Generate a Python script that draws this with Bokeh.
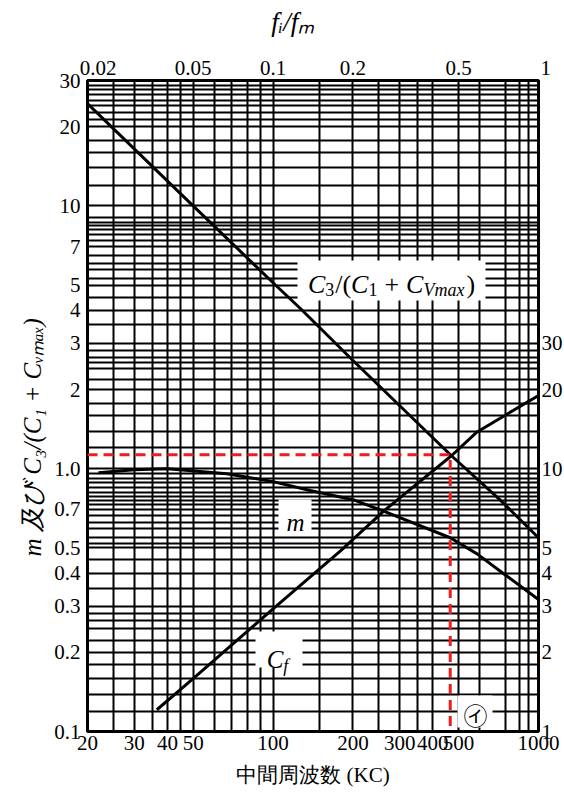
import math
from bokeh.plotting import figure
from bokeh.models import Range1d, LogScale, LogAxis, FixedTicker, Label, BoxAnnotation, Grid
from bokeh.embed import file_html
from bokeh.resources import INLINE

# ---------------- data ----------------
freq_ticks = [20, 30, 40, 50, 100, 200, 300, 400, 500, 1000]
freq_labels = ["20", "30", "40", "50", "100", "200", "300", "400", "500", "1000"]
ratio_ticks = [0.02, 0.05, 0.1, 0.2, 0.5, 1]
ratio_labels = ["\u20030.02", "0.05", "0.1", "0.2", "0.5", "\u2002\u20091"]
left_ticks = [0.1, 0.2, 0.3, 0.4, 0.5, 0.7, 1.0, 2, 3, 4, 5, 7, 10, 20, 30]
left_labels = ["0.1", "0.2", "0.3", "0.4", "0.5", "0.7", "1.0", "2", "3", "4", "5", "7", "10", "20", "30"]
right_ticks = [1, 2, 3, 4, 5, 10, 20, 30]
right_labels = ["1", "2", "3", "4", "5", "10", "20", "30"]

# graph-paper rulings
grid_freq = [25, 30, 35, 40, 45, 50, 60, 70, 80, 90, 100, 150, 200, 250, 300,
             350, 400, 500, 600, 750, 850, 920]
grid_val = [28.7, 27.7, 26.5, 25.2, 24.1, 22.6, 21.4, 20, 17.8, 16, 14, 12, 10,
            9.06, 8.67, 8.42, 8.13, 7.78, 7.39, 7, 6.48, 6.05, 5.71, 5.28, 5, 4.5,
            4.0, 3.54, 3.0, 2.82, 2.66, 2.54, 2.40, 2.18, 2.0, 1.77, 1.59, 1.38, 1.20,
            1.0, 0.957, 0.915, 0.883, 0.85, 0.814, 0.784, 0.757, 0.731, 0.70, 0.664,
            0.626, 0.59, 0.549, 0.518, 0.5, 0.45, 0.40, 0.35, 0.30, 0.282, 0.264,
            0.246, 0.222, 0.20, 0.18, 0.159, 0.138, 0.119]

# curves
c3_freq = [20, 50, 100, 127, 200, 470, 720, 1000]
c3_val = [24.5, 10, 5.1, 4.06, 2.58, 1.12, 0.757, 0.546]
m_freq = [22, 30, 40, 67, 100, 138, 200, 261, 465, 587, 750, 1000]
m_val = [0.965, 0.99, 1.0, 0.957, 0.893, 0.826, 0.762, 0.69, 0.546, 0.474, 0.394, 0.318]
cf_freq = [36.5, 50, 100, 180, 261, 470, 587, 720, 1000]
cf_val = [1.21, 1.59, 2.93, 4.88, 6.9, 11.2, 13.8, 15.6, 19.0]

marker_freq = 465
marker_val = 1.13

x_title = "中間周波数 (KC)"
top_title = "fᵢ/fₘ"
y_title = "m 及び C₃/(C₁ + Cᵥₘₐₓ)"

# ---------------- layout ----------------
W, H = 564, 793
FL, FT, FW, FH = 87, 80, 451, 651   # frame in canvas pixels
X0, X1 = freq_ticks[0], freq_ticks[-1]
Y0, Y1 = left_ticks[0], left_ticks[-1]


def px2x(px):
    return X0 * 10 ** ((px - FL) / FW * math.log10(X1 / X0))


def px2y(py):
    return Y0 * 10 ** ((FT + FH - py) / FH * math.log10(Y1 / Y0))


p = figure(x_axis_type="log", y_axis_type="log",
           x_range=Range1d(X0, X1), y_range=Range1d(Y0, Y1),
           frame_width=FW, frame_height=FH,
           min_border_left=FL, min_border_top=FT,
           min_border_right=W - FL - FW, min_border_bottom=H - FT - FH,
           output_backend="svg", toolbar_location=None)
p.extra_x_ranges = {"ratio": Range1d(ratio_ticks[0], ratio_ticks[-1])}
p.extra_x_scales = {"ratio": LogScale()}
p.extra_y_ranges = {"cf": Range1d(right_ticks[0], right_ticks[0] * Y1 / Y0)}
p.extra_y_scales = {"cf": LogScale()}

p.grid.visible = False
p.outline_line_color = "black"
p.outline_line_width = 3
p.background_fill_color = "white"
p.border_fill_color = "white"

FONT = "Liberation Serif"


def style_axis(ax, standoff):
    ax.axis_line_color = None
    ax.major_tick_line_color = None
    ax.minor_tick_line_color = None
    ax.major_tick_out = 0
    ax.major_tick_in = 0
    ax.minor_tick_out = 0
    ax.minor_tick_in = 0
    ax.major_label_text_font = FONT
    ax.major_label_text_font_size = "21px"
    ax.major_label_text_color = "black"
    ax.major_label_standoff = standoff
    ax.axis_label_text_color = "black"
    ax.axis_label_text_font = FONT


xa = p.xaxis[0]
xa.ticker = FixedTicker(ticks=freq_ticks, minor_ticks=[])
xa.major_label_overrides = dict(zip(freq_ticks, freq_labels))
style_axis(xa, 4)
xa.axis_label = x_title
xa.axis_label_text_font_size = "21px"
xa.axis_label_text_font_style = "normal"
xa.axis_label_standoff = 10

ya = p.yaxis[0]
ya.ticker = FixedTicker(ticks=left_ticks, minor_ticks=[])
ya.major_label_overrides = dict(zip(left_ticks, left_labels))
style_axis(ya, 7)
ya.axis_label = y_title + "\u3000\u3000\u2002"
ya.axis_label_text_font_size = "25px"
ya.axis_label_text_font_style = "italic"
ya.axis_label_standoff = 5

top = LogAxis(x_range_name="ratio", ticker=FixedTicker(ticks=ratio_ticks, minor_ticks=[]))
top.major_label_overrides = dict(zip(ratio_ticks, ratio_labels))
style_axis(top, 1)
top.axis_label = top_title + "\u3000\u2002"
top.axis_label_text_font_size = "27px"
top.axis_label_text_font_style = "italic"
top.axis_label_standoff = 16
p.add_layout(top, "above")

right = LogAxis(y_range_name="cf", ticker=FixedTicker(ticks=right_ticks, minor_ticks=[]))
right.major_label_overrides = dict(zip(right_ticks, right_labels))
style_axis(right, 3)
p.add_layout(right, "right")

# rulings
p.add_layout(Grid(dimension=0, ticker=FixedTicker(ticks=grid_freq, minor_ticks=[]),
                  grid_line_color="black", grid_line_width=2))
p.add_layout(Grid(dimension=1, ticker=FixedTicker(ticks=grid_val, minor_ticks=[]),
                  grid_line_color="black", grid_line_width=2))

# curves
p.line(c3_freq, c3_val, line_color="black", line_width=3, line_join="round")
p.line(m_freq, m_val, line_color="black", line_width=3, line_join="round")
p.line(cf_freq, cf_val, line_color="black", line_width=3, line_join="round", y_range_name="cf")

# red dashed guide
p.line([X0, marker_freq, marker_freq], [marker_val, marker_val, Y0],
       line_color="#ee1c1c", line_width=3, line_dash="10 6")


# white label boxes
def white_box(x0, x1, y0, y1):
    p.add_layout(BoxAnnotation(left=px2x(x0), right=px2x(x1), top=px2y(y0), bottom=px2y(y1),
                               fill_color="white", fill_alpha=1.0, line_color=None))


white_box(297, 485, 260, 300)
white_box(278, 311, 499, 530)
white_box(255, 302, 631, 667)
white_box(457, 492, 695, 727)

# ---------------- math-like text inside the frame ----------------
TR = {"/": 278, "(": 333, ")": 333, "+": 564, " ": 250, ".": 250}
TI = {"C": 667, "V": 611, "m": 722, "a": 500, "x": 444, "f": 278, "i": 278}


def seg_width(text, size, italic, cjk):
    if cjk:
        return len(text) * size
    tab = TI if italic else TR
    return sum(tab.get(ch, 500) for ch in text) * size / 1000.0


def compose(segs, cx, base):
    """segs: (text, size, italic, shift_down_px, cjk); text None => gap of `size` px"""
    widths = [s[1] if s[0] is None else seg_width(s[0], s[1], s[2], s[4]) for s in segs]
    adv = cx - sum(widths) / 2.0
    for (t, size, it, sh, cjk), w in zip(segs, widths):
        if t is not None:
            p.add_layout(Label(x=px2x(adv), y=px2y(base + sh), text=t,
                               text_font="Noto Sans CJK JP" if cjk else FONT,
                               text_font_size=f"{size}px",
                               text_font_style="italic" if it else "normal",
                               text_color="black", text_align="left",
                               text_baseline="alphabetic"))
        adv += w


M, S = 26, 18
c3_segs = [("C", M, True, 0, False), ("3", S, False, 5, False), (None, 1, 0, 0, 0),
           ("/(", M, False, 0, False), ("C", M, True, 0, False), ("1", S, False, 5, False),
           (None, 7, 0, 0, 0), ("+", M, False, 0, False), (None, 7, 0, 0, 0),
           ("C", M, True, 0, False), ("Vmax", S, True, 5, False), (None, 2, 0, 0, 0),
           (")", M, False, 0, False)]
compose(c3_segs, 391, 284)
compose([("m", 25, True, 0, False)], 295, 522)
compose([("C", 25, True, 0, False), ("f", S, True, 6, False)], 277, 659)
compose([("㋑", 24, False, 0, True)], 475, 714)

open("out.html", "w").write(file_html(p, INLINE))
